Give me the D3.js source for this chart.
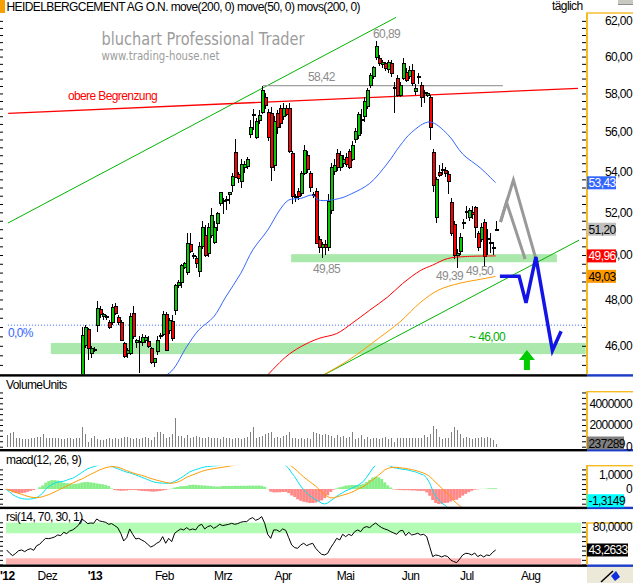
<!DOCTYPE html>
<html>
<head>
<meta charset="utf-8">
<script src="https://cdn.jsdelivr.net/npm/d3@7"></script>
<style>
  body { margin: 0; background: #fff; }
  svg { display: block; font-family: "Liberation Sans", Arial, sans-serif; }
  .ui { font-size: 12px; letter-spacing: -0.6px; }
</style>
</head>
<body>
<div id="chart"></div>
<script>
// Define SVG area dimensions
var svgWidth = 633;
var svgHeight = 583;

// x axis labels, placed on the trading day index
var monthLabels = ["'12", "Dez", "'13", "Feb", "Mrz", "Apr", "Mai", "Jun", "Jul", "Aug"];
var monthDayIdx = [-2.2, 10.3, 27, 49.4, 69.1, 89.3, 110, 131.7, 151.1, 171.4];

// daily candles (one entry per trading day)
var openP = [
  41.0, 41.2, 41.5, 41.0, 41.3, 41.6, 41.4, 41.2, 41.5, 41.7,
  41.5, 42.0, 42.2, 42.6, 42.9, 42.8, 43.0, 43.1, 43.4, 43.3,
  43.7, 43.6, 43.9, 44.0, 44.2, 44.40, 46.03, 46.70, 45.69, 45.82,
  46.88, 47.57, 47.25, 47.23, 47.01, 46.98, 47.70, 47.23, 47.01, 46.09,
  45.69, 45.69, 47.40, 46.12, 46.20, 46.12, 46.24, 46.20, 45.90, 45.32,
  45.78, 46.40, 46.50, 47.32, 46.67, 47.05, 47.53, 48.64, 48.76, 49.45,
  49.20, 50.50, 49.97, 49.86, 49.26, 50.40, 50.90, 50.05, 50.90, 50.60,
  51.45, 52.40, 52.55, 52.60, 52.88, 53.32, 54.96, 53.86, 53.50, 54.20,
  54.26, 55.83, 56.86, 55.70, 56.60, 57.00, 57.81, 57.00, 56.96, 54.30,
  56.96, 57.20, 56.80, 57.20, 57.20, 54.90, 52.75, 53.00, 52.90, 53.90,
  54.80, 53.90, 52.85, 53.00, 50.70, 50.35, 50.50, 50.37, 52.10, 54.00,
  54.90, 54.20, 54.40, 54.70, 55.00, 54.60, 55.60, 55.80, 56.60, 56.76,
  57.30, 58.45, 58.90, 59.97, 59.90, 59.55, 59.64, 59.30, 59.64, 58.30,
  58.83, 57.91, 58.83, 59.15, 58.90, 59.26, 58.10, 58.90, 58.45, 58.00,
  57.91, 57.81, 54.96, 51.77, 53.96, 54.10, 54.06, 53.86, 52.45, 51.40,
  50.00, 50.14, 51.45, 52.00, 51.77, 52.00, 52.25, 51.02, 50.73, 51.54,
  50.78, 50.55, 50.35, 51.20
];
var highP = [
  41.4, 41.7, 41.6, 41.5, 41.8, 41.8, 41.6, 41.7, 41.9, 41.9,
  42.2, 42.4, 42.8, 43.1, 43.1, 43.2, 43.3, 43.6, 43.6, 43.9,
  43.9, 44.1, 44.2, 44.4, 44.6, 46.80, 46.88, 46.75, 46.00, 45.95,
  47.93, 47.70, 47.40, 47.30, 47.10, 47.80, 47.85, 47.30, 47.10, 46.15,
  45.90, 47.40, 47.70, 46.30, 46.40, 46.50, 46.45, 46.40, 45.95, 45.50,
  46.40, 46.55, 47.50, 47.45, 47.20, 47.30, 48.70, 48.85, 49.60, 49.70,
  51.00, 51.00, 50.10, 49.95, 50.60, 51.60, 51.40, 51.50, 52.20, 51.60,
  52.00, 52.70, 52.70, 52.80, 53.00, 53.90, 55.60, 53.95, 54.60, 54.50,
  54.70, 56.60, 57.20, 56.70, 57.10, 58.42, 58.00, 57.20, 57.30, 56.80,
  57.10, 57.40, 57.50, 57.40, 57.50, 55.00, 52.90, 53.20, 54.00, 55.30,
  55.00, 54.00, 53.00, 53.20, 50.90, 50.60, 50.70, 52.90, 54.40, 54.60,
  55.10, 55.00, 54.80, 54.90, 55.10, 55.50, 56.20, 57.00, 57.20, 57.80,
  58.30, 59.10, 59.50, 60.89, 60.10, 59.80, 59.70, 59.80, 59.80, 58.60,
  59.00, 58.60, 59.90, 59.40, 59.50, 59.60, 58.50, 59.10, 58.60, 58.20,
  58.10, 57.90, 55.10, 53.70, 54.30, 54.40, 54.20, 54.00, 52.70, 51.60,
  50.30, 51.00, 51.70, 52.30, 52.20, 52.30, 52.30, 51.10, 51.50, 51.70,
  51.20, 51.00, 50.60, 51.60
];
var lowP = [
  40.8, 41.0, 40.8, 40.9, 41.1, 41.2, 41.0, 41.0, 41.3, 41.3,
  41.4, 41.8, 42.0, 42.4, 42.5, 42.6, 42.8, 42.9, 43.1, 43.1,
  43.3, 43.4, 43.7, 43.8, 44.0, 44.30, 45.90, 45.40, 45.50, 45.75,
  46.60, 47.20, 47.10, 47.10, 46.70, 46.90, 47.30, 46.90, 46.20, 45.50,
  45.50, 45.60, 46.30, 45.90, 44.86, 46.00, 46.10, 45.90, 45.25, 45.10,
  45.60, 46.30, 46.40, 45.80, 46.50, 46.20, 47.30, 48.50, 48.50, 49.35,
  49.10, 50.10, 49.80, 49.40, 49.00, 50.30, 49.90, 49.90, 50.80, 50.50,
  51.10, 52.30, 51.90, 52.10, 52.40, 53.00, 53.70, 53.40, 53.20, 53.90,
  54.10, 55.70, 56.10, 55.60, 56.40, 56.90, 57.20, 55.50, 53.50, 54.00,
  55.90, 56.20, 56.60, 56.80, 54.90, 52.40, 52.50, 52.60, 52.80, 53.80,
  53.90, 53.00, 52.70, 50.50, 50.10, 49.85, 50.00, 50.20, 51.90, 53.80,
  54.00, 54.00, 54.20, 54.20, 54.10, 54.50, 55.40, 55.60, 55.90, 56.50,
  57.20, 58.30, 58.80, 59.80, 59.50, 59.40, 59.20, 59.10, 58.90, 56.96,
  57.80, 57.80, 58.70, 58.60, 58.80, 58.40, 57.90, 58.50, 57.30, 57.50,
  57.80, 55.57, 53.00, 51.50, 53.70, 53.80, 53.70, 52.90, 50.90, 49.80,
  49.39, 50.00, 51.20, 51.70, 51.60, 51.70, 50.80, 50.20, 50.60, 49.50,
  50.00, 50.10, 50.00, 51.10
];
var closeP = [
  41.2, 41.5, 41.0, 41.3, 41.6, 41.4, 41.2, 41.5, 41.7, 41.5,
  42.0, 42.2, 42.6, 42.9, 42.8, 43.0, 43.1, 43.4, 43.3, 43.7,
  43.6, 43.9, 44.0, 44.2, 44.4, 46.45, 46.77, 45.90, 45.90, 45.85,
  47.62, 47.32, 47.32, 47.25, 46.80, 47.66, 47.40, 46.98, 46.24, 45.56,
  45.82, 47.27, 46.41, 46.24, 46.15, 46.37, 46.37, 45.98, 45.32, 45.48,
  46.24, 46.42, 47.32, 45.82, 47.10, 46.30, 48.64, 48.76, 49.54, 49.60,
  50.55, 50.14, 49.95, 49.60, 50.40, 51.30, 50.00, 51.30, 51.87, 51.30,
  51.95, 52.98, 52.50, 52.55, 52.98, 53.76, 53.71, 53.66, 54.35, 54.35,
  54.60, 56.24, 56.90, 56.50, 56.86, 58.18, 57.38, 55.70, 54.21, 56.50,
  56.20, 56.40, 57.20, 56.90, 55.00, 52.75, 52.70, 52.74, 53.90, 55.06,
  54.10, 53.20, 52.83, 50.55, 50.37, 50.50, 50.35, 52.50, 54.20, 54.30,
  54.20, 54.80, 54.60, 54.35, 54.20, 55.30, 56.00, 56.90, 56.65, 57.60,
  58.18, 58.99, 59.40, 60.53, 59.64, 59.65, 59.37, 59.70, 59.10, 58.25,
  57.91, 58.45, 59.64, 58.72, 59.26, 58.56, 58.29, 58.93, 57.81, 58.05,
  58.02, 56.19, 53.32, 53.57, 53.81, 54.06, 53.90, 53.47, 51.02, 50.00,
  50.05, 50.83, 51.54, 52.03, 52.11, 51.90, 51.30, 50.37, 51.30, 49.91,
  50.75, 50.60, 50.30, 51.20
];

var volume = [
  1080000, 1230000, 1380000, 770000, 770000, 710000, 710000, 710000, 770000, 830000,
  920000, 920000, 1150000, 830000, 830000, 770000, 770000, 770000, 710000, 710000,
  770000, 830000, 710000, 830000, 830000, 1850000, 1150000, 460000, 770000, 1020000,
  710000, 620000, 620000, 710000, 830000, 710000, 770000, 710000, 770000, 920000,
  920000, 770000, 710000, 770000, 710000, 830000, 920000, 770000, 620000, 920000,
  1380000, 1320000, 1150000, 770000, 920000, 1150000, 2600000, 1020000, 1020000, 830000,
  1080000, 770000, 920000, 1020000, 920000, 830000, 770000, 920000, 770000, 830000,
  770000, 710000, 920000, 830000, 770000, 710000, 830000, 770000, 710000, 830000,
  920000, 1380000, 1850000, 830000, 920000, 1020000, 1150000, 1230000, 1380000, 770000,
  920000, 830000, 1020000, 1080000, 1380000, 830000, 770000, 710000, 770000, 710000,
  830000, 710000, 1380000, 1230000, 1150000, 1080000, 1150000, 1080000, 1020000, 770000,
  1080000, 920000, 1020000, 830000, 920000, 1380000, 710000, 830000, 1080000, 710000,
  920000, 710000, 770000, 830000, 710000, 830000, 920000, 710000, 830000, 460000,
  770000, 770000, 830000, 770000, 770000, 830000, 770000, 830000, 830000, 1080000,
  920000, 1150000, 1950000, 1650000, 920000, 710000, 830000, 770000, 1380000, 1850000,
  1530000, 1150000, 830000, 920000, 770000, 710000, 770000, 830000, 920000, 830000,
  920000, 770000, 620000, 237289
];

var macdLine = [
  -0.05, -0.20, -0.38, -0.50, -0.59, -0.65, -0.68, -0.69, -0.68, -0.65,
  -0.59, -0.45, -0.28, -0.02, 0.16, 0.30, 0.40, 0.47, 0.50, 0.53,
  0.60, 0.68, 0.73, 0.85, 0.98, 1.12, 1.25, 1.38, 1.45, 1.52,
  1.58, 1.65, 1.70, 1.72, 1.70, 1.55, 1.45, 1.38, 1.30, 1.22,
  1.15, 1.10, 1.03, 0.96, 0.88, 0.80, 0.72, 0.64, 0.55, 0.48,
  0.44, 0.41, 0.40, 0.39, 0.39, 0.42, 0.52, 0.62, 0.75, 0.88,
  1.02, 1.16, 1.25, 1.32, 1.38, 1.45, 1.50, 1.53, 1.55, 1.57,
  1.59, 1.62, 1.68, 1.72, 1.76, 1.80, 1.85, 1.90, 1.95, 2.00,
  2.05, 2.12, 2.18, 2.24, 2.30, 2.34, 2.30, 2.15, 1.95, 1.85,
  1.80, 1.75, 1.70, 1.60, 1.40, 1.10, 0.84, 0.50, 0.20, -0.05,
  -0.25, -0.45, -0.60, -0.72, -0.85, -0.97, -1.02, -0.95, -0.80, -0.65,
  -0.50, -0.36, -0.25, -0.13, -0.05, 0.05, 0.15, 0.25, 0.38, 0.54,
  0.80, 1.10, 1.40, 1.62, 1.75, 1.80, 1.75, 1.65, 1.55, 1.45,
  1.42, 1.38, 1.34, 1.32, 1.28, 1.22, 1.18, 1.10, 1.02, 0.95,
  0.75, 0.40, -0.10, -0.50, -0.75, -0.95, -1.10, -1.25, -1.40, -1.55,
  -1.70, -1.75, -1.72, -1.68, -1.62, -1.55, -1.50, -1.48, -1.45, -1.45,
  -1.42, -1.38, -1.35, -1.3149
];
var macdSignal = [
  0.00, -0.08, -0.15, -0.22, -0.30, -0.37, -0.43, -0.50, -0.55, -0.58,
  -0.59, -0.57, -0.52, -0.45, -0.38, -0.30, -0.20, -0.10, 0.00, 0.10,
  0.20, 0.30, 0.40, 0.50, 0.60, 0.68, 0.78, 0.90, 1.00, 1.10,
  1.20, 1.30, 1.38, 1.45, 1.50, 1.52, 1.52, 1.48, 1.42, 1.33,
  1.25, 1.17, 1.10, 1.03, 0.98, 0.93, 0.86, 0.79, 0.72, 0.66,
  0.60, 0.55, 0.50, 0.45, 0.41, 0.39, 0.42, 0.48, 0.56, 0.68,
  0.80, 0.88, 0.96, 1.04, 1.12, 1.20, 1.26, 1.31, 1.35, 1.39,
  1.42, 1.45, 1.48, 1.51, 1.55, 1.59, 1.63, 1.68, 1.73, 1.78,
  1.83, 1.89, 1.95, 2.01, 2.07, 2.12, 2.15, 2.16, 2.13, 2.08,
  2.03, 1.97, 1.90, 1.80, 1.68, 1.54, 1.38, 1.20, 1.00, 0.82,
  0.66, 0.50, 0.35, 0.20, 0.00, -0.20, -0.40, -0.52, -0.60, -0.60,
  -0.55, -0.48, -0.42, -0.36, -0.30, -0.22, -0.12, -0.02, 0.08, 0.18,
  0.32, 0.48, 0.62, 0.78, 0.95, 1.12, 1.30, 1.40, 1.45, 1.48,
  1.47, 1.45, 1.42, 1.40, 1.36, 1.32, 1.28, 1.22, 1.15, 1.08,
  0.98, 0.86, 0.65, 0.45, 0.27, 0.05, -0.15, -0.32, -0.55, -0.80,
  -0.97, -1.15, -1.27, -1.35, -1.40, -1.43, -1.45, -1.46, -1.46, -1.46,
  -1.45, -1.43, -1.40, -1.37
];

var rsiLine = [
  43.3, 38.0, 34.3, 38.0, 42.2, 43.3, 40.6, 43.8, 45.4, 42.8,
  50.2, 52.4, 57.7, 61.9, 61.4, 62.5, 64.1, 67.3, 66.2, 71.5,
  69.4, 73.7, 75.3, 79.0, 83.3, 92.8, 89.6, 85.4, 86.4, 85.9,
  92.8, 89.6, 88.6, 87.5, 84.3, 85.4, 82.2, 79.0, 70.0, 57.7,
  63.0, 76.9, 68.3, 60.9, 61.9, 59.3, 56.6, 52.4, 48.1, 50.2,
  54.0, 56.6, 64.6, 54.0, 61.9, 56.6, 70.0, 73.7, 76.9, 75.3,
  79.0, 75.3, 76.9, 75.3, 82.2, 84.3, 76.9, 80.6, 82.2, 77.9,
  80.6, 84.3, 82.2, 83.3, 84.3, 85.9, 84.3, 85.4, 87.5, 88.6,
  88.6, 92.8, 95.0, 90.7, 92.8, 96.6, 85.9, 68.3, 61.9, 75.3,
  75.3, 72.6, 76.9, 74.7, 63.0, 51.3, 47.0, 46.0, 51.3, 54.0,
  50.2, 52.4, 54.0, 46.0, 40.6, 36.4, 35.3, 38.0, 47.0, 54.0,
  61.9, 59.3, 68.3, 64.6, 68.3, 66.2, 72.6, 75.3, 72.6, 79.0,
  80.6, 79.0, 83.3, 86.4, 82.2, 79.0, 76.9, 75.3, 72.6, 70.5,
  68.3, 73.7, 74.7, 66.2, 71.5, 67.3, 68.3, 70.0, 67.3, 68.3,
  64.6, 48.6, 32.7, 35.3, 34.3, 32.1, 34.3, 32.7, 27.3, 24.7,
  23.1, 28.9, 35.3, 38.0, 37.5, 35.3, 38.5, 32.7, 35.3, 32.1,
  35.3, 34.3, 39.6, 43.2633
];
var rsiUpper = 70;
var rsiLower = 30;

// moving averages: day index and value
var ma50Day = [50, 55, 60, 64, 69, 73, 78, 82, 87, 91, 94, 98, 102, 104, 111, 115, 121, 127, 131, 135, 141, 147, 152, 158, 163];
var ma50Val = [44.55, 44.95, 45.96, 46.67, 47.24, 48.11, 49.16, 50.23, 51.16, 52.11, 52.59, 52.67, 52.83, 52.59, 52.67, 52.90, 53.40, 54.41, 55.26, 55.97, 56.50, 55.86, 54.86, 54.15, 53.43];
var ma200Day = [86, 93, 98, 104, 110, 115, 121, 127, 132, 138, 142, 147, 153, 163];
var ma200Val = [44.65, 45.53, 45.96, 46.31, 46.52, 46.95, 47.53, 48.11, 48.71, 49.30, 49.54, 49.84, 49.93, 49.96];
var movs200Day = [104, 114, 124, 131, 138, 144, 151, 158, 163];
var movs200Val = [44.68, 45.40, 46.32, 47.01, 47.88, 48.42, 48.72, 48.90, 49.03];

// hand drawn annotations: [day index, price]
var upperTrend = [[0.4, 51.49], [129.8, 62.2]];
var lowerTrend = [[104.4, 44.70], [190.8, 50.69]];
var obereLine = [[0.5, 56.95], [190.4, 58.27]];
var level5842 = [[85.4, 58.42], [165.4, 58.42]];
var fibZero = [[0.4, 46.88], [193, 46.88]];
// support zones: from day, to day, low price, high price
var zones = [[94.8, 183.4, 49.67, 50.04], [14.7, 193, 45.65, 46.12]];
var grayPathA = [[164.6, 51.54], [168.9, 53.57], [176.4, 49.82]];
var grayPathB = [[164.6, 51.54], [166.6, 52.49], [172.8, 49.82]];
var bluePath = [[164.4, 49.03], [170.8, 49.03], [173.1, 47.85], [176.4, 49.91], [181.9, 45.80], [184.8, 46.62]];
var arrowTip = [173.4, 45.82];
var notes = [
  {text: "60,89", day: 122.1, price: 61.03, color: "#8c8c8c"},
  {text: "58,42", day: 100.4, price: 58.67, color: "#8c8c8c"},
  {text: "49,85", day: 102.1, price: 49.18, color: "#8c8c8c"},
  {text: "49,39", day: 143.1, price: 48.86, color: "#8c8c8c"},
  {text: "49,50", day: 153.1, price: 49.09, color: "#8c8c8c"},
  {text: "~ 46,00", day: 154.1, price: 46.20, color: "#00b000"},
  {text: "0,0%", day: 0.4, price: 46.37, color: "#3366ff"},
  {text: "obere Begrenzung", day: 20.4, price: 57.64, color: "#ff0000"}
];

var de = d3.formatLocale({decimal: ",", thousands: ".", grouping: [3], currency: ["", ""], minus: "-"});
var fmt2 = de.format(".2f");
var fmt4 = de.format(".4f");

// Create the SVG wrapper
var svg = d3.select("#chart")
  .append("svg")
  .attr("width", svgWidth)
  .attr("height", svgHeight);

var axisX = 587;

// scales
var xScale = d3.scaleLinear().domain([0, 193]).range([6.7, 585.7]);
var yPrice = d3.scaleLog().domain([44.70, 62.45]).range([377, 13]);
var yVol = d3.scaleLinear().domain([0, 4000000]).range([446.7, 403.3]);
var yMacd = d3.scaleLinear().domain([0, 1]).range([489, 474.3]);
var yRsi = d3.scaleLinear().domain([rsiLower, 80]).range([558.3, 527]);

var defs = svg.append("defs");
function clip(id, y0, y1) {
  defs.append("clipPath").attr("id", id)
    .append("rect").attr("x", 0).attr("y", y0).attr("width", axisX).attr("height", y1 - y0);
}
clip("clipPrice", 13, 374.5);
clip("clipVol", 391, 449);
clip("clipMacd", 465.7, 506.7);
clip("clipRsi", 509, 564.5);

// ---------- header ----------
svg.append("rect").attr("x", 0).attr("y", 0).attr("width", 5).attr("height", 13).attr("fill", "#f5a000");
svg.append("text").attr("class", "ui").attr("x", 6.5).attr("y", 11)
  .text("HEIDELBERGCEMENT AG O.N. move(200, 0) move(50, 0) movs(200, 0)");
svg.append("text").attr("class", "ui").attr("x", 552).attr("y", 10).text("täglich");
svg.append("rect").attr("x", 618).attr("y", 0).attr("width", 15).attr("height", 5).attr("fill", "#c8c8c0");
svg.append("rect").attr("x", 618).attr("y", 4).attr("width", 15).attr("height", 1).attr("fill", "#909088");

// watermark
svg.append("text").attr("x", 101.5).attr("y", 45).attr("font-size", 17)
  .attr("font-family", "'DejaVu Sans', sans-serif")
  .attr("textLength", 203).attr("lengthAdjust", "spacingAndGlyphs")
  .attr("fill", "#9c9c9c").text("bluchart Professional Trader");
svg.append("text").attr("x", 101.5).attr("y", 60).attr("font-size", 12.5)
  .attr("font-family", "'DejaVu Sans', sans-serif")
  .attr("textLength", 118).attr("lengthAdjust", "spacingAndGlyphs")
  .attr("fill", "#9c9c9c").text("www.trading-house.net");

// ---------- price panel ----------
var priceG = svg.append("g").attr("clip-path", "url(#clipPrice)");

var pLine = d3.line().x(d => xScale(d[0])).y(d => yPrice(d[1]));

priceG.selectAll("rect.zone")
  .data(zones)
  .enter()
  .append("rect")
  .attr("x", d => xScale(d[0]))
  .attr("width", d => xScale(d[1]) - xScale(d[0]))
  .attr("y", d => yPrice(d[3]))
  .attr("height", d => yPrice(d[2]) - yPrice(d[3]))
  .attr("fill", "#abe8ab");

priceG.append("path").attr("d", pLine(fibZero)).attr("fill", "none")
  .attr("stroke", "#3366ff").attr("stroke-dasharray", "1,2");
priceG.append("path").attr("d", pLine(upperTrend)).attr("fill", "none").attr("stroke", "#00b400");
priceG.append("path").attr("d", pLine(lowerTrend)).attr("fill", "none").attr("stroke", "#00b400");
priceG.append("path").attr("d", pLine(obereLine)).attr("fill", "none").attr("stroke", "#ff0000").attr("stroke-width", 1.3);
priceG.append("path").attr("d", pLine(level5842)).attr("fill", "none").attr("stroke", "#a0a0a0").attr("stroke-width", 1.2);

// candles
var candles = closeP.map(function(c, i) {
  return {i: i, o: openP[i], h: highP[i], l: lowP[i], c: c};
});
var candleG = priceG.append("g").attr("shape-rendering", "crispEdges");
candleG.selectAll("line")
  .data(candles)
  .enter()
  .append("line")
  .attr("x1", d => Math.round(xScale(d.i)) + 0.5)
  .attr("x2", d => Math.round(xScale(d.i)) + 0.5)
  .attr("y1", d => yPrice(d.h))
  .attr("y2", d => yPrice(d.l))
  .attr("stroke", "#000");
candleG.selectAll("rect")
  .data(candles)
  .enter()
  .append("rect")
  .attr("x", d => Math.round(xScale(d.i)) - 1)
  .attr("width", 3)
  .attr("y", d => yPrice(Math.max(d.o, d.c)))
  .attr("height", d => Math.max(1, yPrice(Math.min(d.o, d.c)) - yPrice(Math.max(d.o, d.c))))
  .attr("fill", d => d.c >= d.o ? "#00cc00" : "#ff0000")
  .attr("stroke", "#000");

// moving averages
function maPath(days, vals) {
  return d3.line().curve(d3.curveCatmullRom)
    .x((d, k) => xScale(days[k])).y(d => yPrice(d))(vals);
}
priceG.append("path").attr("d", maPath(ma50Day, ma50Val)).attr("fill", "none").attr("stroke", "#3366ff");
priceG.append("path").attr("d", maPath(ma200Day, ma200Val)).attr("fill", "none").attr("stroke", "#ff0000");
priceG.append("path").attr("d", maPath(movs200Day, movs200Val)).attr("fill", "none").attr("stroke", "#ff9900");

// projections
priceG.append("path").attr("d", pLine(grayPathA)).attr("fill", "none").attr("stroke", "#999").attr("stroke-width", 3);
priceG.append("path").attr("d", pLine(grayPathB)).attr("fill", "none").attr("stroke", "#999").attr("stroke-width", 3);
priceG.append("path").attr("d", pLine(bluePath)).attr("fill", "none").attr("stroke", "#1414e6").attr("stroke-width", 3.5);

var ax = xScale(arrowTip[0]), ay = yPrice(arrowTip[1]);
priceG.append("path")
  .attr("d", `M${ax},${ay} L${ax + 8},${ay + 10} L${ax + 3},${ay + 10} L${ax + 3},${ay + 20} L${ax - 3},${ay + 20} L${ax - 3},${ay + 10} L${ax - 8},${ay + 10} Z`)
  .attr("fill", "#00cc00");

svg.append("g").selectAll("text")
  .data(notes)
  .enter()
  .append("text")
  .attr("class", "ui")
  .attr("x", d => xScale(d.day))
  .attr("y", d => yPrice(d.price))
  .attr("fill", d => d.color)
  .text(d => d.text);

// ---------- volume panel ----------
var volG = svg.append("g").attr("clip-path", "url(#clipVol)").attr("shape-rendering", "crispEdges");
volG.selectAll("line")
  .data(volume)
  .enter()
  .append("line")
  .attr("x1", (d, i) => Math.round(xScale(i)) + 0.5)
  .attr("x2", (d, i) => Math.round(xScale(i)) + 0.5)
  .attr("y1", yVol(0))
  .attr("y2", d => yVol(d))
  .attr("stroke", "#808080");

// ---------- macd panel ----------
var macdG = svg.append("g").attr("clip-path", "url(#clipMacd)");
macdG.selectAll("rect")
  .data(macdLine)
  .enter()
  .append("rect")
  .attr("x", (d, i) => xScale(i) - 1.5)
  .attr("width", 3)
  .attr("y", (d, i) => Math.min(yMacd(0), yMacd(d - macdSignal[i])))
  .attr("height", (d, i) => Math.abs(yMacd(d - macdSignal[i]) - yMacd(0)))
  .attr("fill", (d, i) => d - macdSignal[i] >= 0 ? "#88ee88" : "#ff8888");
var mLine = d3.line().x((d, i) => xScale(i)).y(d => yMacd(d));
macdG.append("path").attr("d", mLine(macdLine)).attr("fill", "none").attr("stroke", "#00e0f0");
macdG.append("path").attr("d", mLine(macdSignal)).attr("fill", "none").attr("stroke", "#ff9900");

// ---------- rsi panel ----------
var rsiG = svg.append("g").attr("clip-path", "url(#clipRsi)");
rsiG.append("rect").attr("x", 6).attr("width", 575).attr("y", 522.7)
  .attr("height", yRsi(rsiUpper) - 522.7).attr("fill", "#b3fcb3");
rsiG.append("rect").attr("x", 6).attr("width", 575).attr("y", yRsi(rsiLower))
  .attr("height", 565 - yRsi(rsiLower)).attr("fill", "#ffb4b4");
rsiG.append("path")
  .attr("d", d3.line().x((d, i) => xScale(i)).y(d => yRsi(d))(rsiLine))
  .attr("fill", "none").attr("stroke", "#000");

// panel titles
svg.append("text").attr("class", "ui").attr("x", 6).attr("y", 389).text("VolumeUnits");
svg.append("text").attr("class", "ui").attr("x", 6).attr("y", 464).text("macd(12, 26, 9)");
svg.append("text").attr("class", "ui").attr("x", 6).attr("y", 521).text("rsi(14, 70, 30, 1)");

// ---------- separators and right axis frame ----------
var panelBottoms = [374.2, 449, 506.7, 564.5];
panelBottoms.forEach(function(y) {
  svg.append("rect").attr("x", 0).attr("y", y).attr("width", axisX).attr("height", 2.4).attr("fill", "#000");
  svg.append("rect").attr("x", axisX).attr("y", y).attr("width", svgWidth - axisX).attr("height", 2.4).attr("fill", "#1c3cc8");
});
var panelTops = [13, 391.7, 465.7, 523];
panelTops.forEach(function(t, k) {
  svg.append("rect").attr("x", axisX - 1).attr("y", t).attr("width", 2).attr("height", panelBottoms[k] - t).attr("fill", "#f5bb20");
  svg.append("rect").attr("x", axisX - 1).attr("y", t - 0.7).attr("width", svgWidth - axisX + 1).attr("height", 1.4).attr("fill", "#f5bb20");
});

// axes: minor ticks both sides, labels on the right
function ticks(scale, values, y0, y1) {
  var vals = values.filter(v => scale(v) >= y0 && scale(v) <= y1);
  svg.append("g").attr("transform", `translate(${axisX - 1},0)`)
    .call(d3.axisLeft(scale).tickValues(vals).tickSize(4).tickFormat(""))
    .call(g => g.select(".domain").remove());
  svg.append("g").attr("transform", "translate(0,0)")
    .call(d3.axisRight(scale).tickValues(vals).tickSize(3).tickFormat(""))
    .call(g => g.select(".domain").remove());
}
function labels(scale, values, fmt) {
  svg.append("g").attr("transform", `translate(${axisX},0)`)
    .call(d3.axisRight(scale).tickValues(values).tickSize(0).tickFormat(fmt))
    .call(g => g.select(".domain").remove())
    .call(g => g.selectAll("text")
      .attr("class", "ui").attr("x", 45).attr("text-anchor", "end")
      .attr("font-size", null).attr("fill", "#000"));
}
ticks(yPrice, d3.range(44.8, 62.41, 0.4), 14, 374);
ticks(yVol, d3.range(0, 5100000, 500000), 392, 449);
ticks(yMacd, d3.range(-4, 6).map(k => k / 3), 466, 507);
ticks(yRsi, d3.range(0, 10).map(k => 87.5 - k * 7.5), 511, 565);

labels(yPrice, d3.range(46, 63, 2), fmt2);
labels(yVol, [0, 2000000, 4000000], d3.format("d"));
labels(yMacd, [0, 1], d => d === 0 ? "0" : fmt4(d));
labels(yRsi, [80], fmt4);

// last value boxes
function valueBox(y, text, fill, color, w) {
  svg.append("rect").attr("x", axisX).attr("y", y - 6.5).attr("width", w).attr("height", 13).attr("fill", fill);
  svg.append("text").attr("class", "ui").attr("x", axisX + 1.5).attr("y", y + 4.5).attr("fill", color).text(text);
}
var last = closeP.length - 1;
valueBox(yPrice(ma50Val[ma50Val.length - 1]), fmt2(ma50Val[ma50Val.length - 1]), "#3366ff", "#fff", 29);
valueBox(yPrice(closeP[last]), fmt2(closeP[last]), "#c0c0c0", "#000", 29);
valueBox(yPrice(ma200Val[ma200Val.length - 1]), fmt2(ma200Val[ma200Val.length - 1]), "#ff0000", "#fff", 29);
valueBox(yPrice(movs200Val[movs200Val.length - 1]), fmt2(movs200Val[movs200Val.length - 1]), "#ff9900", "#000", 29);
valueBox(Math.min(yVol(volume[last]), 443), String(volume[last]), "#808080", "#000", 37);
valueBox(Math.min(yMacd(macdLine[last]), 500.7), fmt4(macdLine[last]), "#00ffff", "#000", 37);
valueBox(yRsi(rsiLine[last]), fmt4(rsiLine[last]), "#000", "#fff", 41);

// ---------- time axis ----------
svg.append("g").selectAll("text")
  .data(monthLabels)
  .enter()
  .append("text")
  .attr("class", "ui")
  .attr("x", (d, i) => Math.max(0, xScale(monthDayIdx[i])))
  .attr("y", 580)
  .attr("font-weight", d => d.charAt(0) === "'" ? "bold" : "normal")
  .text(d => d);

// bottom right button
svg.append("rect").attr("x", axisX).attr("y", 567).attr("width", svgWidth - axisX).attr("height", 16).attr("fill", "#ece9d8");
svg.append("path").attr("d", "M601,582 L613,571").attr("stroke", "#000").attr("stroke-width", 1.5);
svg.append("path").attr("d", "M611,576 L616,571 L620,577 L615,581 Z").attr("fill", "#1030e0");
</script>
</body>
